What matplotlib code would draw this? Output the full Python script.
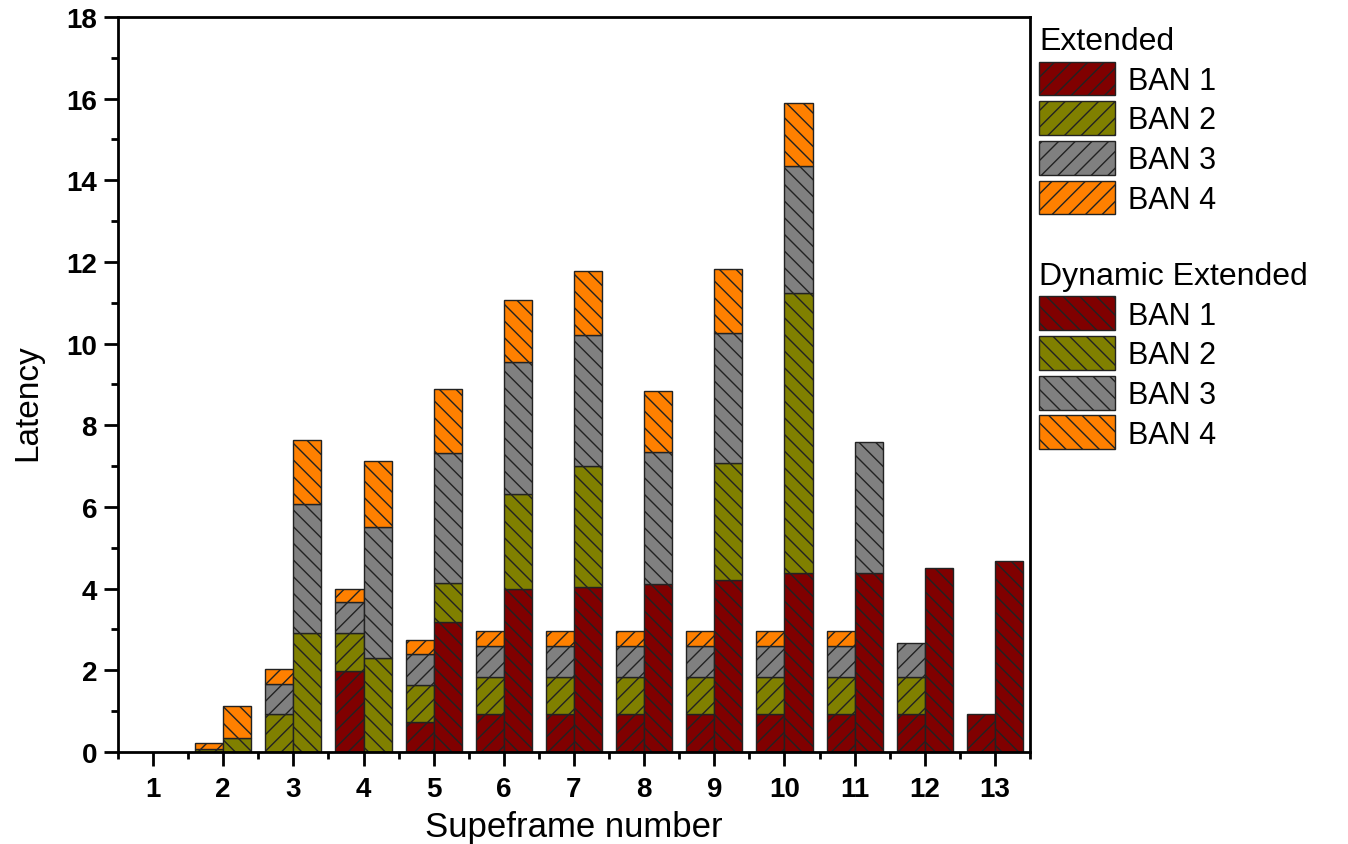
import numpy as np
import matplotlib
matplotlib.use("Agg")
import matplotlib.pyplot as plt
from matplotlib.patches import Patch
from matplotlib.ticker import MultipleLocator

plt.rcParams['font.family'] = ['Liberation Sans', 'DejaVu Sans']
plt.rcParams['hatch.linewidth'] = 1.0
plt.rcParams['hatch.color'] = 'black'

superframes = np.arange(1, 14)
ban_labels = ["BAN 1", "BAN 2", "BAN 3", "BAN 4"]
ban_colors = ["#800000", "#808000", "#808080", "#FF8000"]

ext_ban1 = [0, 0, 0, 1.98, 0.72, 0.92, 0.92, 0.92, 0.92, 0.92, 0.92, 0.92, 0.92]
ext_ban2 = [0, 0.06, 0.92, 0.92, 0.92, 0.92, 0.92, 0.92, 0.92, 0.92, 0.92, 0.92, 0]
ext_ban3 = [0, 0, 0.74, 0.76, 0.75, 0.76, 0.76, 0.76, 0.76, 0.76, 0.76, 0.83, 0]
ext_ban4 = [0, 0.16, 0.36, 0.34, 0.35, 0.35, 0.35, 0.35, 0.35, 0.35, 0.35, 0, 0]

dyn_ban1 = [0, 0, 0, 0, 3.17, 4.0, 4.03, 4.11, 4.2, 4.38, 4.38, 4.5, 4.68]
dyn_ban2 = [0, 0.33, 2.9, 2.31, 0.97, 2.31, 2.98, 0, 2.87, 6.85, 0, 0, 0]
dyn_ban3 = [0, 0, 3.16, 3.21, 3.17, 3.23, 3.19, 3.24, 3.2, 3.12, 3.22, 0, 0]
dyn_ban4 = [0, 0.79, 1.59, 1.6, 1.58, 1.52, 1.57, 1.49, 1.55, 1.55, 0, 0, 0]

ext_series = [ext_ban1, ext_ban2, ext_ban3, ext_ban4]
dyn_series = [dyn_ban1, dyn_ban2, dyn_ban3, dyn_ban4]

fig = plt.figure(figsize=(13.48, 8.45), dpi=100)
ax = fig.add_axes([0.0875, 0.109, 0.6766, 0.8697])

width = 0.4
edge = "#222222"

def draw_stack(series, offset, hatch):
    bottom = np.zeros(len(superframes))
    for vals, col in zip(series, ban_colors):
        v = np.array(vals, dtype=float)
        h = np.where(v > 0, v, np.nan)
        ax.bar(superframes + offset, h, width=width, bottom=bottom, align='edge',
               color=col, edgecolor=edge, linewidth=1.0, hatch=hatch)
        bottom = bottom + v

draw_stack(ext_series, -width, '//')
draw_stack(dyn_series, 0.0, '\\\\')

ax.set_xlim(0.5, 13.5)
ax.set_ylim(0, 18)
ax.set_xticks(superframes)
ax.xaxis.set_minor_locator(MultipleLocator(0.5))
ax.yaxis.set_major_locator(MultipleLocator(2))
ax.yaxis.set_minor_locator(MultipleLocator(1))
ax.tick_params(axis='both', which='major', length=10, width=2, labelsize=20, direction='out')
ax.tick_params(axis='both', which='minor', length=5, width=2, direction='out')
ax.tick_params(axis='x', which='major', pad=7)
ax.tick_params(axis='y', which='major', pad=5)
for lbl in ax.get_xticklabels() + ax.get_yticklabels():
    lbl.set_fontweight('bold')
for sp in ax.spines.values():
    sp.set_linewidth(2)

ax.set_xlabel("Supeframe number", fontsize=25, labelpad=6)
ax.set_ylabel("Latency", fontsize=24)
ax.yaxis.set_label_coords(-0.082, 0.477)

ext_handles = [Patch(facecolor=c, edgecolor=edge, hatch='//', linewidth=1.0, label=l)
               for c, l in zip(ban_colors, ban_labels)]
dyn_handles = [Patch(facecolor=c, edgecolor=edge, hatch='\\\\', linewidth=1.0, label=l)
               for c, l in zip(ban_colors, ban_labels)]

common = dict(loc='upper left', frameon=False, fontsize=22, title_fontsize=23,
              handlelength=2.5, handleheight=1.33, handletextpad=0.4,
              labelspacing=0.18, borderpad=0, borderaxespad=0, alignment='left')
leg1 = fig.legend(handles=ext_handles, title="Extended",
                  bbox_to_anchor=(0.7708, 0.968), **common)
leg2 = fig.legend(handles=dyn_handles, title="Dynamic Extended",
                  bbox_to_anchor=(0.7708, 0.69), **common)

fig.savefig("out.png", dpi=100)
